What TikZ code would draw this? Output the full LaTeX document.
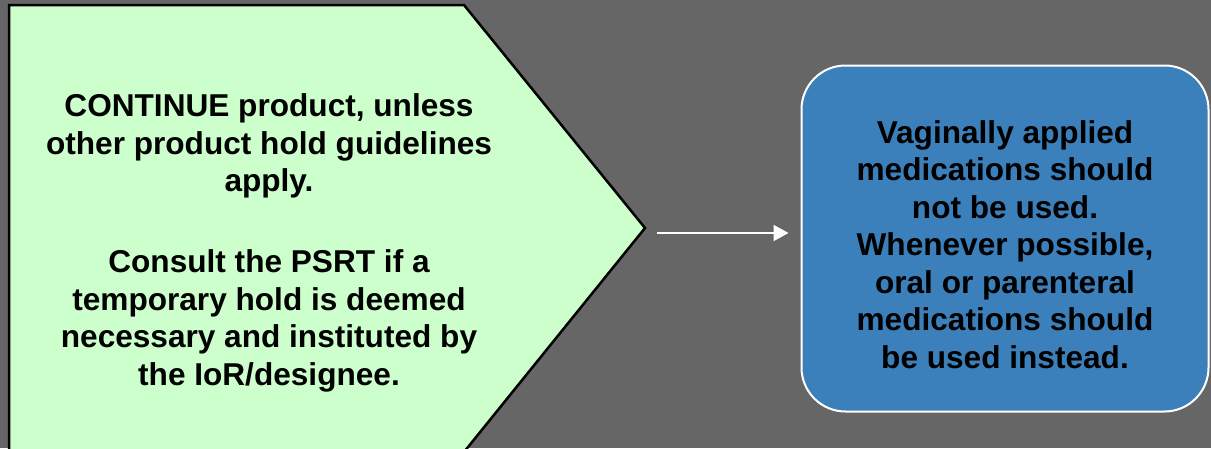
\documentclass[tikz,border=0pt]{standalone}
\usepackage{fontspec}
\setmainfont{Liberation Sans}
\usetikzlibrary{arrows.meta}
\definecolor{bggray}{RGB}{102,102,102}
\definecolor{palegreen}{RGB}{204,255,204}
\definecolor{steelblue}{RGB}{59,127,187}

\begin{document}
\begin{tikzpicture}[x=1pt,y=-1pt,
  pentbox/.style={draw=black,line width=2.5pt,fill=palegreen,line join=miter},
  bluebox/.style={draw=white,line width=2pt,fill=steelblue,rounded corners=44pt,minimum width=407pt,minimum height=346pt},
  txt/.style={font=\bfseries\fontsize{31.6}{37.5}\selectfont,align=center,inner sep=0pt},
  flow/.style={draw=white,line width=2pt,-{Triangle[length=15pt,width=16pt]}}]
\useasboundingbox (0,0) rectangle (1211,448);
\clip (0,0) rectangle (1211,448);
\fill[bggray] (0,0) rectangle (1211,448);

% hold guideline
\draw[pentbox] (9,5) -- (464,5) -- (645,228) coordinate (tip) -- (464,452) -- (9,452) -- cycle;
\node[txt] (cont) at (269,243) {CONTINUE product, unless\\other product hold guidelines\\apply.\\[43.5pt]Consult the PSRT if a\\temporary hold is deemed\\necessary and instituted by\\the IoR/designee.};

% vaginal products
\node[bluebox] (vag) at (1005,238.5) {};
\node[txt] (vagtext) at (1005,244.5) {Vaginally applied\\medications should\\not be used.\\Whenever possible,\\oral or parenteral\\medications should\\be used instead.};

\coordinate (astart) at ([shift={(12,5)}]tip);
\draw[flow,shorten >=12pt] (astart) -- (astart -| vag.west);
\end{tikzpicture}
\end{document}
